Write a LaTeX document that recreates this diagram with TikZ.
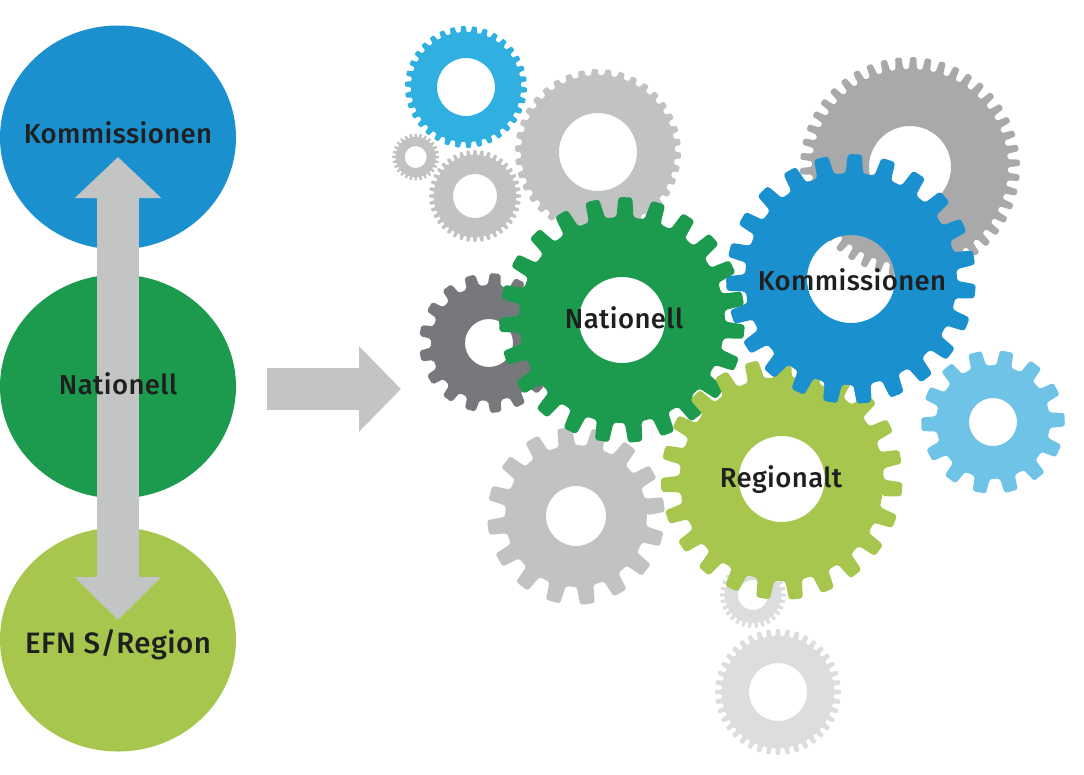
\documentclass[tikz,border=0pt]{standalone}
\usepackage{fontspec}
\setmainfont[LetterSpace=1.5]{Fira Sans Medium}
\usetikzlibrary{arrows.meta,shapes.geometric}
\definecolor{kblue}{HTML}{1B90CF}
\definecolor{ngreen}{HTML}{1C9B4F}
\definecolor{rgreen}{HTML}{A6C64E}
\definecolor{cyanwheel}{HTML}{2FB0E0}
\definecolor{skywheel}{HTML}{6EC3E6}
\definecolor{graywheel}{HTML}{C1C2C2}
\definecolor{steelwheel}{HTML}{A7A9AA}
\definecolor{darkwheel}{HTML}{77787B}
\definecolor{palewheel}{HTML}{DCDDDE}
\definecolor{arrowgray}{HTML}{C3C4C4}
\tikzset{
  disc/.style={ellipse,minimum width=236pt,minimum height=224pt,inner sep=0pt},
  lbl/.style={font=\fontsize{27.5}{31}\selectfont,text=black!88},
  bigarrow/.style={arrowgray,line width=42pt},
}
% colour, centre, hole, root, outer, teeth, phase, corner
\newcommand{\gearwheel}[8]{%
  \pgfmathsetmacro\pitch{360/#6}
  \begin{scope}[shift={#2}]
    \fill[#1,even odd rule,rounded corners=#8]
      ({-#7+.30*\pitch}:#4)
      \foreach \i in {1,...,#6} {
        -- ({-#7-(\i-1)*\pitch+.30*\pitch}:#4)
        -- ({-#7-(\i-1)*\pitch+.21*\pitch}:#5)
        -- ({-#7-(\i-1)*\pitch-.21*\pitch}:#5)
        -- ({-#7-(\i-1)*\pitch-.30*\pitch}:#4)
      } -- cycle
      (0,0) circle (#3);
  \end{scope}
}
\begin{document}
\begin{tikzpicture}[x=1pt,y=-1pt]
  \useasboundingbox (0,0) rectangle (1084,774);
  % left column
  \node[disc,fill=kblue] (kdisc) at (118,137.5) {};
  \node[disc,fill=ngreen] (ndisc) at (118,386.5) {};
  \node[disc,fill=rgreen] (rdisc) at (118,639.5) {};
  \coordinate (uptip) at (118,157);
  \coordinate (downtip) at (118,620);
  \draw[bigarrow,{Triangle[length=41pt,width=84pt]}-{Triangle[length=43pt,width=84pt]}] (uptip) -- (downtip);
  \node[lbl] (ktext) at (118,133) {Kommissionen};
  \node[lbl] (ntext) at (118,384) {Nationell};
  \node[lbl,font=\fontsize{29.5}{33}\selectfont] (rtext) at (118,644.5) {EFN S/Region};
  \coordinate (flowstart) at (267,389);
  \coordinate (flowtip) at (401,389);
  \draw[bigarrow,-{Triangle[length=42pt,width=83pt]}] (flowstart) -- (flowtip);
  % wheels at the back
  \gearwheel{palewheel}{(753,595)}{15}{28}{33}{30}{0}{.5pt}
  \gearwheel{palewheel}{(778,692)}{29}{56}{63}{40}{0}{.8pt}
  \gearwheel{graywheel}{(576,516)}{30}{71}{89}{16}{7.4}{2.5pt}
  \gearwheel{graywheel}{(415.7,157)}{11}{20}{23.5}{28}{0}{.4pt}
  \gearwheel{graywheel}{(475,196)}{22}{41}{46}{40}{0}{.7pt}
  \gearwheel{cyanwheel}{(466,87)}{29}{55}{61}{34}{92.5}{.8pt}
  \gearwheel{graywheel}{(598,152)}{39}{77}{83}{38}{92.3}{1pt}
  \gearwheel{steelwheel}{(910,167)}{41}{98}{110}{46}{88.3}{1.5pt}
  \gearwheel{darkwheel}{(489,343)}{24}{58}{70}{17}{169.6}{2pt}
  \gearwheel{skywheel}{(993,422)}{24}{57}{72}{14}{79}{2.5pt}
  % the three big ones
  \gearwheel{kblue}{(851,279)}{44}{106}{125}{23}{88.2}{3pt}
  \gearwheel{ngreen}{(622,320)}{43}{103}{123}{23}{88.4}{3pt}
  \gearwheel{rgreen}{(781.7,479)}{43}{102}{121}{23}{-5}{3pt}
  \begin{scope}
    \clip (762,340) rectangle (900,420);
    \gearwheel{kblue}{(851,279)}{44}{106}{125}{23}{88.2}{3pt}
  \end{scope}
  \node[lbl] (kgear) at (852,280) {Kommissionen};
  \node[lbl] (ngear) at (624,318) {Nationell};
  \node[lbl] (rgear) at (781,480) {Regionalt};
\end{tikzpicture}
\end{document}
